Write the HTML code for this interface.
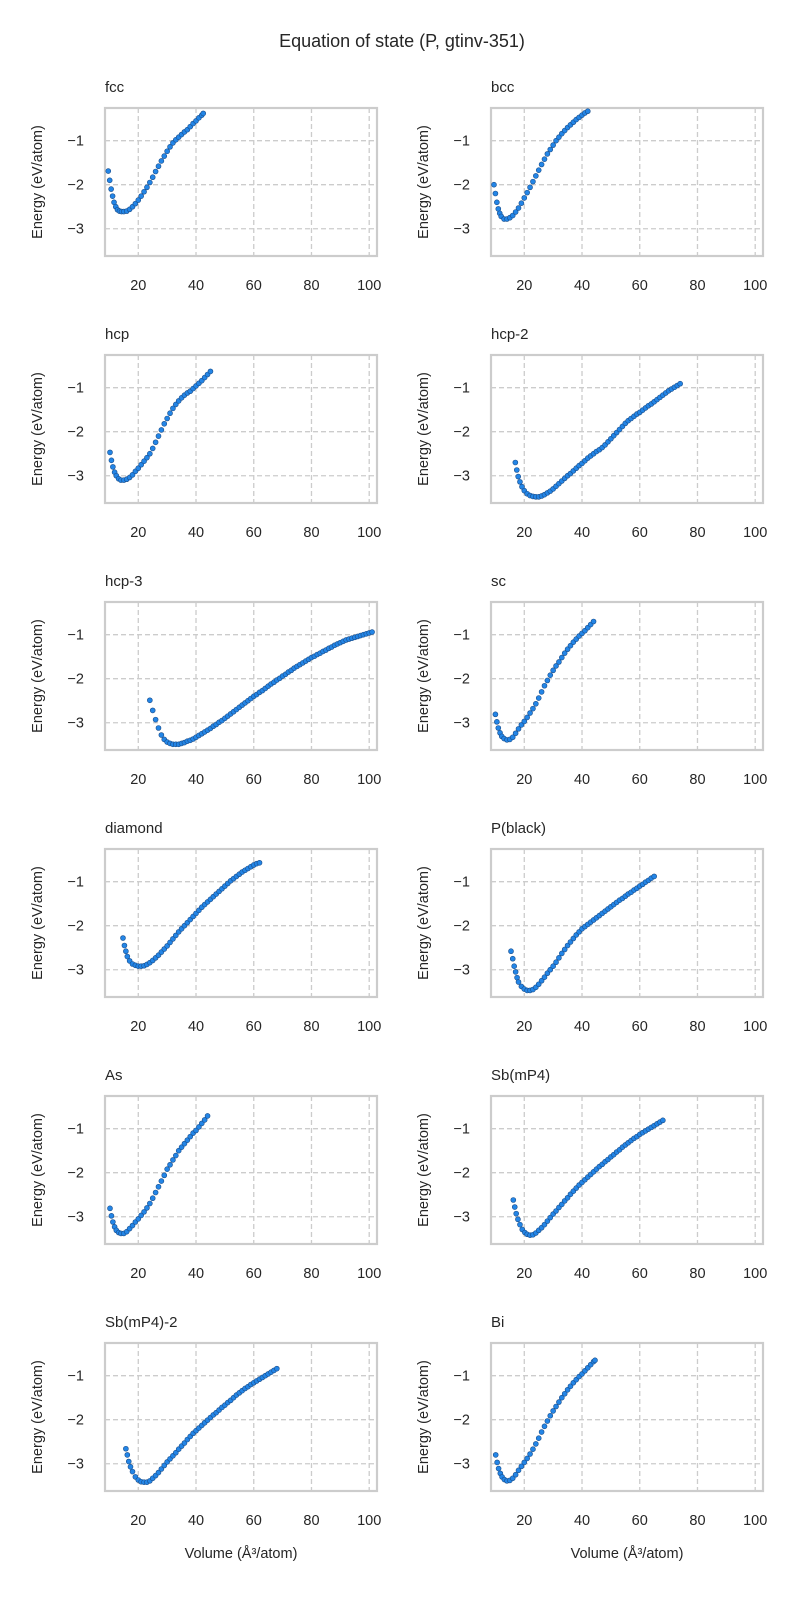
<!DOCTYPE html>
<html><head><meta charset="utf-8"><title>Equation of state</title>
<style>
html,body{margin:0;padding:0;background:#fff;}
svg{display:block;font-family:"Liberation Sans","DejaVu Sans",sans-serif;}
</style></head>
<body>
<svg id="chart" width="800" height="1600" viewBox="0 0 800 1600">
<text x="402" y="47" text-anchor="middle" font-size="18" fill="#262626">Equation of state (P, gtinv-351)</text>
</svg>
<script>
const panelTitles = ["fcc","bcc","hcp","hcp-2","hcp-3","sc","diamond","P(black)","As","Sb(mP4)","Sb(mP4)-2","Bi"];
const xTicks = [20,40,60,80,100];
const yTicks = [-1,-2,-3];
const xDomain = [8.47,102.7];
const yDomain = [-3.62,-0.257];

const fccData = [[9.6,-1.69],[10.1,-1.9],[10.6,-2.1],[11.1,-2.26],[11.6,-2.4],[12.2,-2.5],[12.8,-2.57],[13.5,-2.6],[14.2,-2.61],[15,-2.61],[16,-2.6],[17,-2.56],[18,-2.5],[19,-2.43],[20,-2.35],[21,-2.26],[22,-2.16],[23,-2.06],[24,-1.95],[25,-1.83],[26,-1.7],[27,-1.58],[28,-1.46],[29,-1.35],[30,-1.24],[31,-1.14],[32,-1.05],[33,-0.98],[34,-0.92],[35,-0.86],[36,-0.8],[37,-0.75],[38,-0.68],[39,-0.61],[40,-0.55],[41,-0.48],[42,-0.42],[42.5,-0.38]];
const bccData = [[9.5,-2.0],[10,-2.2],[10.5,-2.4],[11,-2.55],[11.5,-2.65],[12,-2.72],[13,-2.78],[14,-2.78],[15,-2.75],[16,-2.7],[17,-2.62],[18,-2.53],[19,-2.42],[20,-2.3],[21,-2.18],[22,-2.06],[23,-1.93],[24,-1.8],[25,-1.67],[26,-1.54],[27,-1.42],[28,-1.3],[29,-1.2],[30,-1.1],[31,-1.0],[32,-0.92],[33,-0.84],[34,-0.77],[35,-0.7],[36,-0.64],[37,-0.58],[38,-0.52],[39,-0.47],[40,-0.42],[41,-0.37],[42,-0.33]];
const hcpData = [[10.2,-2.47],[10.7,-2.65],[11.2,-2.8],[11.8,-2.92],[12.4,-3.0],[13.2,-3.07],[14,-3.1],[15,-3.1],[16,-3.08],[17,-3.04],[18,-2.98],[19,-2.9],[20,-2.83],[21,-2.75],[22,-2.67],[23,-2.59],[24,-2.5],[25,-2.38],[26,-2.24],[27,-2.1],[28,-1.96],[29,-1.82],[30,-1.7],[31,-1.58],[32,-1.47],[33,-1.38],[34,-1.3],[35,-1.23],[36,-1.17],[37,-1.12],[38,-1.08],[39,-1.02],[40,-0.96],[41,-0.9],[42,-0.84],[43,-0.77],[44,-0.7],[45,-0.63]];
const hcp2Data = [[16.9,-2.7],[17.4,-2.87],[17.9,-3.02],[18.5,-3.14],[19.2,-3.25],[20,-3.34],[21,-3.41],[22,-3.45],[23,-3.47],[24,-3.48],[25,-3.48],[26,-3.46],[27,-3.43],[28,-3.39],[29,-3.35],[30,-3.3],[31,-3.24],[32,-3.18],[33,-3.12],[34,-3.06],[35,-3.0],[36,-2.95],[37,-2.89],[38,-2.83],[39,-2.77],[40,-2.72],[41,-2.66],[42,-2.6],[43,-2.55],[44,-2.5],[45,-2.45],[46,-2.41],[47,-2.36],[48,-2.3],[49,-2.23],[50,-2.16],[51,-2.09],[52,-2.02],[53,-1.95],[54,-1.88],[55,-1.81],[56,-1.75],[57,-1.7],[58,-1.65],[59,-1.6],[60,-1.56],[61,-1.51],[62,-1.46],[63,-1.41],[64,-1.37],[65,-1.32],[66,-1.27],[67,-1.22],[68,-1.17],[69,-1.12],[70,-1.07],[71,-1.03],[72,-0.99],[73,-0.95],[74,-0.91]];
const hcp3Data = [[24,-2.49],[25,-2.72],[26,-2.93],[27,-3.12],[28,-3.28],[29,-3.38],[30,-3.44],[31,-3.47],[32,-3.49],[33,-3.49],[34,-3.49],[35,-3.47],[36,-3.45],[37,-3.42],[38,-3.4],[39,-3.37],[40,-3.33],[41,-3.29],[42,-3.25],[43,-3.21],[44,-3.17],[45,-3.13],[46,-3.08],[47,-3.04],[48,-2.99],[49,-2.95],[50,-2.9],[51,-2.85],[52,-2.8],[53,-2.75],[54,-2.7],[55,-2.65],[56,-2.6],[57,-2.55],[58,-2.5],[59,-2.45],[60,-2.4],[61,-2.36],[62,-2.31],[63,-2.27],[64,-2.22],[65,-2.17],[66,-2.12],[67,-2.08],[68,-2.03],[69,-1.99],[70,-1.94],[71,-1.9],[72,-1.85],[73,-1.81],[74,-1.76],[75,-1.72],[76,-1.68],[77,-1.64],[78,-1.6],[79,-1.56],[80,-1.52],[81,-1.49],[82,-1.45],[83,-1.42],[84,-1.38],[85,-1.35],[86,-1.31],[87,-1.28],[88,-1.24],[89,-1.21],[90,-1.18],[91,-1.15],[92,-1.12],[93,-1.1],[94,-1.08],[95,-1.06],[96,-1.04],[97,-1.02],[98,-1.0],[99,-0.98],[100,-0.96],[101,-0.94]];
const scData = [[10,-2.81],[10.5,-2.98],[11,-3.12],[11.6,-3.23],[12.2,-3.31],[13,-3.36],[14,-3.39],[15,-3.38],[16,-3.33],[17,-3.24],[18,-3.14],[19,-3.05],[20,-2.97],[21,-2.88],[22,-2.78],[23,-2.68],[24,-2.57],[25,-2.44],[26,-2.3],[27,-2.16],[28,-2.04],[29,-1.92],[30,-1.81],[31,-1.71],[32,-1.62],[33,-1.52],[34,-1.42],[35,-1.33],[36,-1.25],[37,-1.17],[38,-1.1],[39,-1.03],[40,-0.97],[41,-0.91],[42,-0.84],[43,-0.77],[44,-0.7]];
const diamondData = [[14.7,-2.28],[15.2,-2.45],[15.7,-2.58],[16.2,-2.7],[17,-2.8],[18,-2.87],[19,-2.9],[20,-2.92],[21,-2.92],[22,-2.91],[23,-2.88],[24,-2.84],[25,-2.79],[26,-2.73],[27,-2.67],[28,-2.6],[29,-2.53],[30,-2.46],[31,-2.38],[32,-2.3],[33,-2.22],[34,-2.14],[35,-2.07],[36,-2.0],[37,-1.93],[38,-1.86],[39,-1.79],[40,-1.72],[41,-1.65],[42,-1.58],[43,-1.52],[44,-1.46],[45,-1.4],[46,-1.34],[47,-1.28],[48,-1.22],[49,-1.16],[50,-1.1],[51,-1.04],[52,-0.98],[53,-0.93],[54,-0.88],[55,-0.83],[56,-0.78],[57,-0.74],[58,-0.7],[59,-0.66],[60,-0.62],[61,-0.59],[62,-0.57]];
const pblackData = [[15.4,-2.58],[16,-2.75],[16.5,-2.92],[17,-3.05],[17.5,-3.18],[18,-3.28],[19,-3.38],[20,-3.44],[21,-3.47],[22,-3.47],[23,-3.45],[24,-3.4],[25,-3.33],[26,-3.25],[27,-3.17],[28,-3.08],[29,-3.0],[30,-2.92],[31,-2.83],[32,-2.73],[33,-2.63],[34,-2.54],[35,-2.45],[36,-2.37],[37,-2.29],[38,-2.21],[39,-2.14],[40,-2.07],[41,-2.02],[42,-1.97],[43,-1.92],[44,-1.87],[45,-1.82],[46,-1.77],[47,-1.72],[48,-1.67],[49,-1.62],[50,-1.57],[51,-1.52],[52,-1.47],[53,-1.42],[54,-1.38],[55,-1.33],[56,-1.28],[57,-1.24],[58,-1.19],[59,-1.15],[60,-1.1],[61,-1.06],[62,-1.01],[63,-0.97],[64,-0.92],[65,-0.88]];
const asData = [[10.2,-2.81],[10.7,-2.98],[11.2,-3.12],[11.8,-3.23],[12.4,-3.31],[13.2,-3.36],[14,-3.38],[15,-3.38],[16,-3.34],[17,-3.27],[18,-3.2],[19,-3.12],[20,-3.05],[21,-2.97],[22,-2.89],[23,-2.8],[24,-2.7],[25,-2.58],[26,-2.45],[27,-2.32],[28,-2.19],[29,-2.06],[30,-1.92],[31,-1.82],[32,-1.71],[33,-1.61],[34,-1.5],[35,-1.42],[36,-1.34],[37,-1.26],[38,-1.18],[39,-1.1],[40,-1.04],[41,-0.96],[42,-0.88],[43,-0.8],[44,-0.71]];
const sbData = [[16.2,-2.62],[16.7,-2.78],[17.2,-2.93],[17.8,-3.06],[18.5,-3.18],[19.3,-3.29],[20.2,-3.36],[21,-3.4],[22,-3.42],[23,-3.41],[24,-3.37],[25,-3.31],[26,-3.25],[27,-3.18],[28,-3.1],[29,-3.02],[30,-2.94],[31,-2.87],[32,-2.79],[33,-2.72],[34,-2.64],[35,-2.57],[36,-2.49],[37,-2.42],[38,-2.35],[39,-2.28],[40,-2.22],[41,-2.16],[42,-2.1],[43,-2.04],[44,-1.98],[45,-1.92],[46,-1.86],[47,-1.81],[48,-1.75],[49,-1.7],[50,-1.64],[51,-1.59],[52,-1.53],[53,-1.48],[54,-1.42],[55,-1.37],[56,-1.32],[57,-1.27],[58,-1.22],[59,-1.18],[60,-1.13],[61,-1.09],[62,-1.05],[63,-1.01],[64,-0.97],[65,-0.93],[66,-0.89],[67,-0.85],[68,-0.81]];
const sb2Data = [[15.7,-2.66],[16.2,-2.8],[16.7,-2.95],[17.3,-3.07],[18,-3.18],[19,-3.3],[20,-3.37],[21,-3.41],[22,-3.42],[23,-3.42],[24,-3.39],[25,-3.33],[26,-3.27],[27,-3.2],[28,-3.12],[29,-3.04],[30,-2.96],[31,-2.89],[32,-2.82],[33,-2.75],[34,-2.67],[35,-2.6],[36,-2.53],[37,-2.45],[38,-2.38],[39,-2.31],[40,-2.25],[41,-2.19],[42,-2.13],[43,-2.07],[44,-2.01],[45,-1.95],[46,-1.89],[47,-1.84],[48,-1.78],[49,-1.72],[50,-1.67],[51,-1.61],[52,-1.56],[53,-1.5],[54,-1.44],[55,-1.39],[56,-1.34],[57,-1.29],[58,-1.25],[59,-1.2],[60,-1.16],[61,-1.12],[62,-1.08],[63,-1.04],[64,-1.0],[65,-0.96],[66,-0.92],[67,-0.88],[68,-0.84]];
const biData = [[10.1,-2.8],[10.6,-2.97],[11.1,-3.11],[11.7,-3.22],[12.3,-3.3],[13.1,-3.36],[14,-3.39],[15,-3.38],[16,-3.33],[17,-3.25],[18,-3.15],[19,-3.06],[20,-2.97],[21,-2.88],[22,-2.78],[23,-2.67],[24,-2.55],[25,-2.42],[26,-2.28],[27,-2.15],[28,-2.03],[29,-1.91],[30,-1.8],[31,-1.7],[32,-1.6],[33,-1.5],[34,-1.41],[35,-1.32],[36,-1.24],[37,-1.16],[38,-1.09],[39,-1.02],[40,-0.96],[41,-0.89],[42,-0.82],[43,-0.75],[44,-0.68],[44.5,-0.65]];

const allData = [fccData,bccData,hcpData,hcp2Data,hcp3Data,scData,diamondData,pblackData,asData,sbData,sb2Data,biData];

const NS = "http://www.w3.org/2000/svg";
const svg = document.getElementById('chart');
const colLeft = [105, 491], PW = 272, PH = 148, ROW0 = 108, ROWSTEP = 247;
function mk(tag, attrs, parent){ const e = document.createElementNS(NS, tag); for (const k in attrs) e.setAttribute(k, attrs[k]); (parent||svg).appendChild(e); return e; }
function slug(s){ return s.toLowerCase().replace(/[^a-z0-9]+/g,'-').replace(/-+$/,''); }

panelTitles.forEach((title, i) => {
  const col = i % 2, row = Math.floor(i / 2);
  const L = colLeft[col], T = ROW0 + row * ROWSTEP;
  const xs = v => L + (v - xDomain[0]) / (xDomain[1] - xDomain[0]) * PW;
  const ys = e => T + (yDomain[1] - e) / (yDomain[1] - yDomain[0]) * PH;
  const g = mk('g', {});
  
  
  const t = mk('text', {x: L, y: T - 16, 'font-size': 15, fill: '#262626'}, g);
  t.textContent = title;
  
  
  xTicks.forEach(v => {
    const ln = mk('line', {x1: xs(v), x2: xs(v), y1: T, y2: T + PH, stroke: '#cccccc', 'stroke-width': 1.3, 'stroke-dasharray': '5,3'}, g);
    
    
    const lb = mk('text', {x: xs(v), y: T + PH + 34, 'text-anchor': 'middle', 'font-size': 14.5, fill: '#262626'}, g);
    lb.textContent = v;
    
    
  });
  yTicks.forEach(v => {
    const ln = mk('line', {x1: L, x2: L + PW, y1: ys(v), y2: ys(v), stroke: '#cccccc', 'stroke-width': 1.3, 'stroke-dasharray': '5,3'}, g);
    
    
    const lb = mk('text', {x: L - 21, y: ys(v) + 5, 'text-anchor': 'end', 'font-size': 14.5, fill: '#262626'}, g);
    lb.textContent = '\u2212' + Math.abs(v);
    
    
  });
  const fr = mk('rect', {x: L, y: T, width: PW, height: PH, fill: 'none', stroke: '#cccccc', 'stroke-width': 2.2}, g);
  
  
  const yl = mk('text', {x: 0, y: 0, transform: `translate(${L - 63},${T + PH / 2}) rotate(-90)`, 'text-anchor': 'middle', 'font-size': 14.5, fill: '#262626'}, g);
  yl.textContent = 'Energy (eV/atom)';
  
  
  allData[i].forEach(p => {
    const c = mk('circle', {cx: xs(p[0]), cy: ys(p[1]), r: 2.5, fill: '#2385e6', stroke: '#1b4f8c', 'stroke-width': 0.6}, g);
    
    
  });
  if (row === 5) {
    const xl = mk('text', {x: L + PW / 2, y: 1558, 'text-anchor': 'middle', 'font-size': 14.5, fill: '#262626'}, g);
    xl.textContent = 'Volume (\u00C5\u00B3/atom)';
    
    
  }
});
</script>
</body></html>
